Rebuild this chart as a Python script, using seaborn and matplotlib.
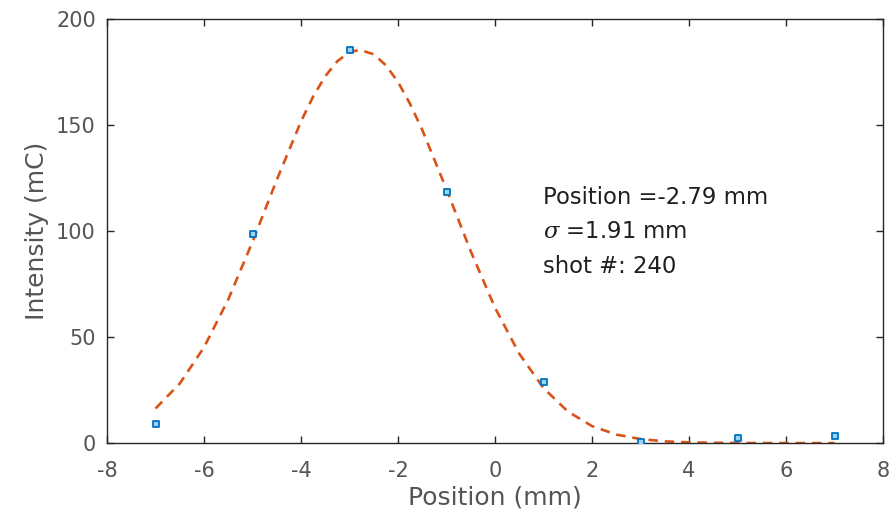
import numpy as np
import pandas as pd
import matplotlib
matplotlib.use("Agg")
import matplotlib.pyplot as plt
import seaborn as sns

# measured points
pos_mm = [-7, -5, -3, -1, 1, 3, 5, 7]
intensity_mC = [9, 98.5, 185.4, 118.4, 28.8, 0.6, 2.5, 3.2]

# fitted curve
fit_x = [-7, -6.5, -6, -5.5, -5, -4.5, -4, -3.75, -3.5, -3.25, -3, -2.79, -2.5,
         -2.25, -2, -1.75, -1.5, -1, -0.5, 0, 0.5, 1, 1.5, 2, 2.5, 3, 3.5, 4,
         4.5, 5, 5.5, 6, 6.5, 7]
fit_y = [16.3, 28.1, 45.2, 67.8, 95.0, 124.2, 151.8, 163.5, 173.1, 180.2, 184.4,
         185.5, 183.4, 178.2, 170.3, 159.9, 147.7, 119.6, 90.4, 63.8, 42.1, 25.9,
         14.9, 8.0, 4.0, 1.9, 0.8, 0.33, 0.13, 0.04, 0.01, 0.0, 0.0, 0.0]

annot_lines = ["Position =-2.79 mm", r"$\sigma$ =1.91 mm", "shot #: 240"]
xticks = [-8, -6, -4, -2, 0, 2, 4, 6, 8]
yticks = [0, 50, 100, 150, 200]

sns.set_theme(style="white")
plt.rcParams['font.family'] = ['DejaVu Sans']
plt.rcParams['mathtext.fontset'] = 'custom'
plt.rcParams['mathtext.it'] = 'DejaVu Serif:italic'

fig = plt.figure(figsize=(8.92, 5.17), dpi=100)
ax = fig.add_axes([0.12, 0.143, 0.870, 0.820])

pts = pd.DataFrame({"x": pos_mm, "y": intensity_mC})
fit = pd.DataFrame({"x": fit_x, "y": fit_y})

sns.lineplot(data=fit, x="x", y="y", ax=ax, color="#D95319", linewidth=1.9,
             linestyle=(0, (3.6, 2.6)), sort=False, zorder=2)
sns.scatterplot(data=pts, x="x", y="y", ax=ax, marker="s", s=22,
                facecolor="#9cd3f2", edgecolor="#0072BD", linewidth=1.3, zorder=3)

ax.set_xlim(-8, 8)
ax.set_ylim(0, 200)
ax.set_xticks(xticks)
ax.set_yticks(yticks)
ax.set_xticklabels([str(t) for t in xticks])
ax.set_yticklabels([str(t) for t in yticks])
ax.tick_params(direction="in", length=5, width=1, colors="#262626",
               labelcolor="#555555", labelsize=15, top=True, right=True,
               bottom=True, left=True)
ax.tick_params(axis="x", pad=13)
ax.tick_params(axis="y", pad=8)
for sp in ax.spines.values():
    sp.set_color("#262626")
    sp.set_linewidth(1.0)
ax.set_xlabel("Position (mm)", fontsize=18, color="#555555", labelpad=3)
ax.set_ylabel("Intensity (mC)", fontsize=18, color="#555555", labelpad=5)

for i, t in enumerate(annot_lines):
    ax.text(0.99, 116 - i * 16.3, t, fontsize=16.4, color="#1f1f1f",
            va="center", ha="left")

fig.savefig("out.png", dpi=100)
